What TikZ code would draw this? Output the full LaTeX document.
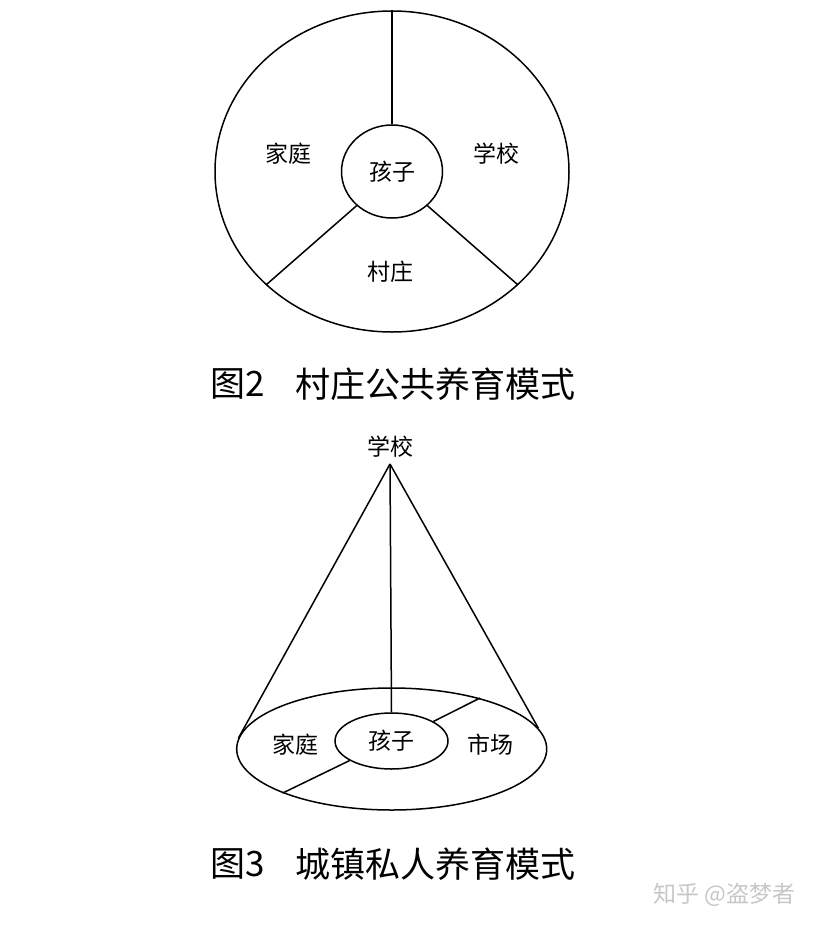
\documentclass[tikz,border=0pt]{standalone}
\usepackage{fontspec}
\newfontfamily\cjk{Noto Sans CJK SC}
\usetikzlibrary{shapes.geometric}
\tikzset{
  ring/.style    ={ellipse,draw,line width=1.5pt,inner sep=0pt},
  part/.style    ={line width=1.5pt},
  lbl/.style     ={font=\cjk\fontsize{23}{23}\selectfont,inner sep=0pt},
  figcap/.style  ={font=\cjk\fontsize{35}{35}\selectfont,anchor=west,inner sep=0pt},
  wmtext/.style  ={font=\cjk\fontsize{23}{23}\selectfont,anchor=west,inner sep=0pt,text=black!22},
}
\begin{document}
\begin{tikzpicture}[x=1pt,y=-1pt]
  \useasboundingbox (0,0) rectangle (826,930);
  % village model
  \node[ring,minimum width=354pt,minimum height=321pt] (vouter) at (392,171.5) {};
  \node[ring,lbl,minimum width=101pt,minimum height=93pt] (vchild) at (392,171.5) {孩子};
  \draw[part] (vouter.90) -- (vchild.90);
  \draw[part] (vchild.224) -- (vouter.222);
  \draw[part] (vchild.-44) -- (vouter.-42);
  \node[lbl] (vhome) at (288,154) {家庭};
  \node[lbl] (vschool) at (496,154) {学校};
  \node[lbl] (vvillage) at (390,272) {村庄};
  \node[figcap] (cap2no) at (210,384) {图2};
  \node[figcap] (cap2) at (295,384) {村庄公共养育模式};
  % town model
  \node[lbl] (tschool) at (390,447) {学校};
  \coordinate (apex) at (390,464);
  \node[ring,minimum width=310pt,minimum height=122pt] (touter) at (391.7,749) {};
  \node[ring,lbl,minimum width=113pt,minimum height=56pt] (tchild) at (391.5,741) {孩子};
  \draw[part] (apex) -- (tchild.90);
  \draw[part] (apex) -- (touter.176.6);
  \draw[part] (apex) -- (touter.8.6);
  \draw[part] (tchild.25) -- (touter.30.5);
  \draw[part] (tchild.205.7) -- (touter.202);
  \node[lbl] (thome) at (295,745) {家庭};
  \node[lbl] (tmarket) at (490,745) {市场};
  \node[figcap] (cap3no) at (210,864) {图3};
  \node[figcap] (cap3) at (295,864) {城镇私人养育模式};
  \node[wmtext] (wmark) at (653,895) {知乎 @盗梦者};
\end{tikzpicture}
\end{document}
